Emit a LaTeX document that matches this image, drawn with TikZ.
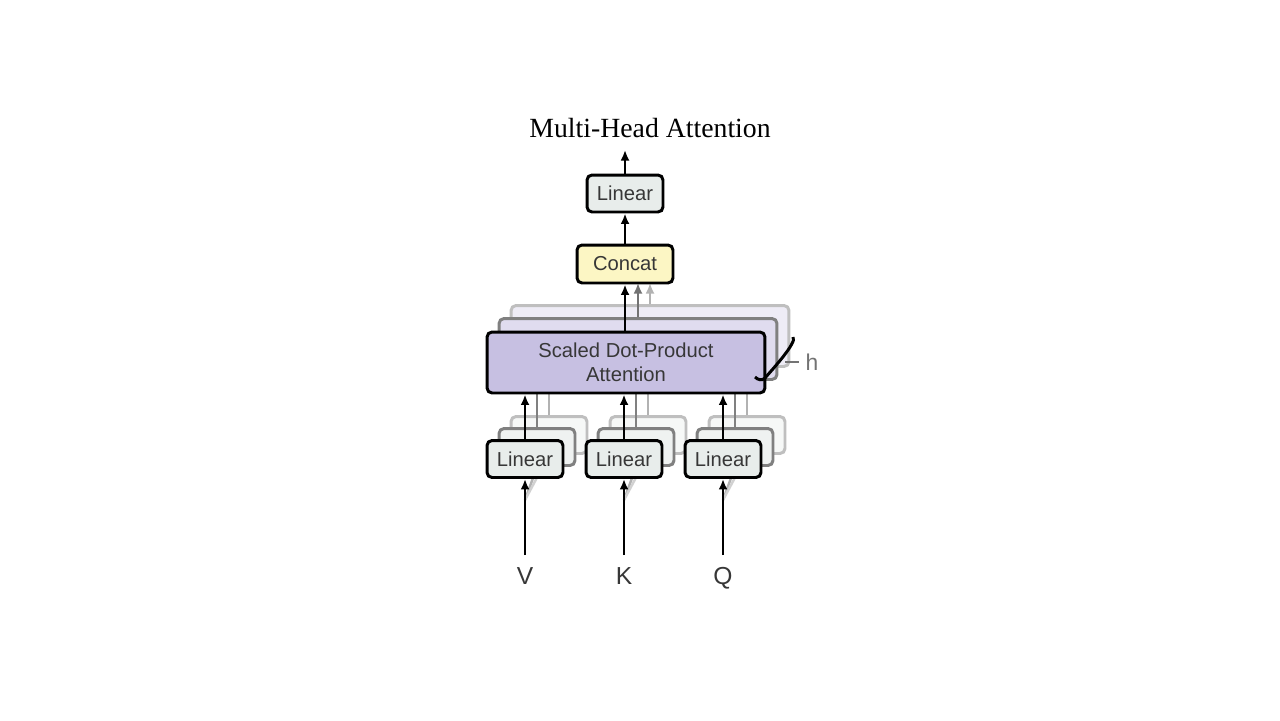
\documentclass[tikz,border=0pt]{standalone}
\usepackage{fontspec}
\setmainfont{Liberation Serif}
\setsansfont{Liberation Sans}
\usetikzlibrary{arrows.meta}
\definecolor{linfill}{RGB}{232,237,235}
\definecolor{catfill}{RGB}{252,246,196}
\definecolor{attfill}{RGB}{199,192,226}
\definecolor{txtgray}{RGB}{55,55,55}
\begin{document}
\begin{tikzpicture}[x=0.02cm,y=-0.02cm,>={Latex[length=2.1mm,width=1.8mm]},
  box/.style={draw,rounded corners=0.1cm,line width=1.7pt,inner sep=0pt,align=center,
    text=txtgray,font=\sffamily\fontsize{11.5}{13.5}\selectfont},
  linbox/.style={box,fill=linfill,minimum width=1.52cm,minimum height=0.74cm},
  attbox/.style={box,fill=attfill,minimum width=5.56cm,minimum height=1.22cm},
  catbox/.style={box,fill=catfill,minimum width=1.92cm,minimum height=0.76cm},
  far/.style={draw=black!25,fill=white},
  mid/.style={draw=black!50,fill=white},
  wire/.style={line width=1.6pt},
  label/.style={text=txtgray,text height=10pt,text depth=0pt,font=\sffamily\fontsize{14}{16}\selectfont}]
\useasboundingbox (0,0) rectangle (1280,720);

% copies behind the attention box
\node[attbox,far,fill=attfill!30!white] (att3) at (650,336) {};
\node[attbox,mid,fill=attfill!55!white] (att2) at (638,349) {};
\coordinate (top) at (0,283);
\draw[wire,->,black!55] (att2.north) -- (att2.north |- top);
\draw[wire,->,black!30] (att3.north) -- (att3.north |- top);

% copies behind the linear boxes
\coordinate (bot) at (0,393);
\foreach \n/\x in {v/525,k/624,q/723} {
  \node[linbox,far,fill=linfill!40!white] (\n3) at (\x+24,435) {};
  \node[linbox,mid,fill=linfill!70!white] (\n2) at (\x+12,447) {};
  \coordinate (\n s) at (\x,500);
  \draw[wire,black!50] (\n2.north) -- (\n2.north |- bot);
  \draw[wire,black!30] (\n3.north) -- (\n3.north |- bot);
  \draw[line width=1.4pt,black!30] (\n s) -- (\n2.south);
  \draw[line width=1.4pt,black!18] (\n s) -- (\n3.south);
}

\node[attbox] (att) at (626,362.5) {Scaled Dot-Product\\Attention};
\node[catbox] (cat) at (625,264) {Concat};
\node[linbox] (lin) at (625,193.5) {Linear};
\node[font=\fontsize{15.8}{18}\selectfont] (title) at (650,128) {Multi-Head Attention};
\coordinate (out) at (625,150);

\node[linbox] (v1) at (525,459) {Linear};
\node[linbox] (k1) at (624,459) {Linear};
\node[linbox] (q1) at (723,459) {Linear};

\node[label] (v) at (525,576) {V};
\node[label] (k) at (624,576) {K};
\node[label] (q) at (723,576) {Q};
\node[label,text=black!55,font=\sffamily\fontsize{13}{15}\selectfont] (h) at (812,362) {h};

% main connectors
\draw[wire,->] (att.north -| cat) -- (cat);
\draw[wire,->] (cat) -- (lin);
\draw[wire,->] (lin) -- (out);
\draw[wire,->] (v1) -- (v1 |- att.south);
\draw[wire,->] (k1) -- (k1 |- att.south);
\draw[wire,->] (q1) -- (q1 |- att.south);
\draw[wire,->] (v.north) ++(0,-6) -- (v1);
\draw[wire,->] (k.north) ++(0,-6) -- (k1);
\draw[wire,->] (q.north) ++(0,-6) -- (q1);

% the h bracket
\draw[line width=1.7pt] (793,337) .. controls (798,342) and (770,372) .. (765,378)
  .. controls (762,381) and (758,380) .. (755,377);
\draw[line width=1pt,black!55] (785,362) -- (h.west);
\end{tikzpicture}
\end{document}
